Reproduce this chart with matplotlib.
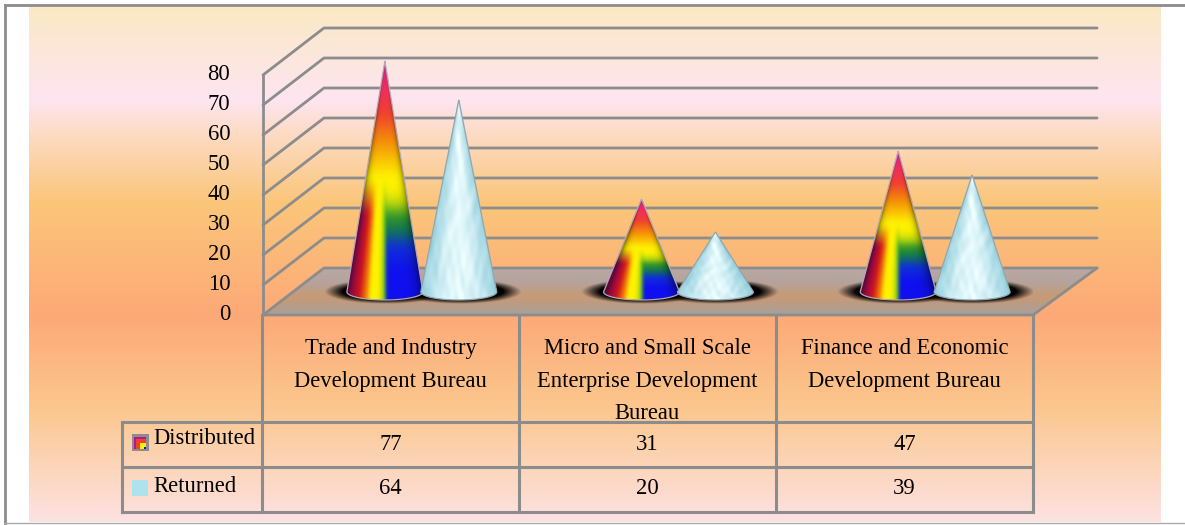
import numpy as np
import matplotlib
matplotlib.use("Agg")
import matplotlib.pyplot as plt
from matplotlib.colors import LinearSegmentedColormap
from matplotlib.patches import PathPatch, Rectangle
from matplotlib.path import Path
from matplotlib.transforms import ScaledTranslation

plt.rcParams["font.family"] = ["Liberation Serif"]

categories = [
    "Trade and Industry\nDevelopment Bureau",
    "Micro and Small Scale\nEnterprise Development\nBureau",
    "Finance and Economic\nDevelopment Bureau",
]
series_names = ["Distributed", "Returned"]
distributed = [77, 31, 47]
returned = [64, 20, 39]
y_ticks = [0, 10, 20, 30, 40, 50, 60, 70, 80]

W, H = 1185, 525
GREY = "#8c8c8c"
FS = 16.3
# front plane of the 3d box, pixels
LEFT, RIGHT, BOTTOM, TOP = 263, 1033, 315, 75
DEPTH_X, DEPTH_Y = 61, 47

fig = plt.figure(figsize=(W / 100, H / 100), dpi=100)

# page layer, in pixels
page = fig.add_axes([0, 0, 1, 1])
page.axis("off")

bg_cmap = LinearSegmentedColormap.from_list(
    "bg",
    [
        (0.0, "#fae9c4"),
        (0.18, "#fee5f1"),
        (0.24, "#fddcc8"),
        (0.38, "#fbc67a"),
        (0.6, "#fda977"),
        (0.78, "#fbc78e"),
        (1.0, "#fde2e2"),
    ],
)
page.imshow(
    np.linspace(0, 1, 256).reshape(-1, 1),
    cmap=bg_cmap,
    aspect="auto",
    extent=[29, 1161, 522, 6],
    zorder=0,
)
page.set_xlim(0, W)
page.set_ylim(H, 0)
page.plot([5, 5], [523, 5], color=GREY, lw=2, zorder=1)
page.plot([5, W], [5, 5], color=GREY, lw=2, zorder=1)
page.plot([5, W], [523, 523], color="#aaaaaa", lw=1, zorder=1)

# table
table_x = [122, 262, 519, 776, 1033]
table_y = [315, 422, 467, 512]
for x in table_x[1:]:
    page.plot([x, x], [table_y[0], table_y[-1]], color=GREY, lw=2.2, zorder=2)
page.plot([table_x[0]] * 2, [table_y[1], table_y[-1]], color=GREY, lw=2.2, zorder=2)
for y in table_y[1:]:
    page.plot([table_x[0], table_x[-1]], [y, y], color=GREY, lw=2.2, zorder=2)

for i, label in enumerate(categories):
    xc = (table_x[i + 1] + table_x[i + 2]) / 2
    page.text(xc, 338, label, ha="center", va="top", fontsize=FS, linespacing=1.72)
    page.text(xc, 445, str(distributed[i]), ha="center", va="center", fontsize=FS)
    page.text(xc, 489, str(returned[i]), ha="center", va="center", fontsize=FS)
page.text(153, 439, series_names[0], ha="left", va="center", fontsize=FS)
page.text(153, 486, series_names[1], ha="left", va="center", fontsize=FS)

# legend keys
page.add_patch(Rectangle((132, 434), 17, 17, fc=GREY, ec="none", zorder=3))
page.add_patch(Rectangle((134, 437), 12, 12, fc="#a81a9a", ec="none", zorder=3))
page.add_patch(Rectangle((136, 439), 10, 10, fc="#f0402a", ec="none", zorder=3))
page.add_patch(Rectangle((140, 443), 6, 6, fc="#fff000", ec="none", zorder=3))
page.add_patch(Rectangle((144, 447), 2, 2, fc="#1020c0", ec="none", zorder=3))
page.add_patch(Rectangle((132, 480), 16, 16, fc="#aee2ec", ec="none", zorder=3))

# chart layer: x in category units, y in data units
ax = fig.add_axes(
    [LEFT / W, 1 - BOTTOM / H, (RIGHT - LEFT) / W, (BOTTOM - TOP) / H], facecolor="none"
)
ax.set_xlim(0, 3)
ax.set_ylim(0, 80)
for s in ax.spines.values():
    s.set_visible(False)
ax.set_xticks([])
ax.set_yticks(y_ticks)
ax.tick_params(axis="y", length=0, labelsize=FS, pad=23.5)
# labels sit a little above their gridline in the original
nudge = ScaledTranslation(0, 2.5 / 100, fig.dpi_scale_trans)
for tick in ax.yaxis.get_major_ticks():
    tick.label1.set_transform(tick.label1.get_transform() + nudge)

dx = DEPTH_X / (RIGHT - LEFT) * 3
dy = DEPTH_Y / (BOTTOM - TOP) * 80
x_end = 3 + dx * 1.05
wall_kw = dict(color=GREY, lw=2, clip_on=False, solid_capstyle="round")

# floor
floor_cmap = LinearSegmentedColormap.from_list(
    "floor", [(0, "#b9a8a4"), (0.3, "#b5a39c"), (0.62, "#c79a74"), (1, "#a8a09c")]
)
floor_path = Path([(0, 0), (dx, dy), (x_end, dy), (3, 0), (0, 0)])
floor_img = ax.imshow(
    np.linspace(0, 1, 64).reshape(-1, 1),
    cmap=floor_cmap,
    aspect="auto",
    extent=[0, x_end, 0, dy],
    zorder=1,
)
floor_img.set_clip_box(fig.bbox)
floor_img.set_clip_path(PathPatch(floor_path, transform=ax.transData))

for t in y_ticks:
    ax.plot([0, dx, x_end], [t, t + dy, t + dy], zorder=2, **wall_kw)
ax.plot([0, 0], [0, 80], zorder=2, **wall_kw)
ax.plot([0, 3, x_end], [0, 0, dy], zorder=2, **wall_kw)


def texture_grid():
    n = 160
    return np.meshgrid(np.linspace(-1, 1, n), np.linspace(1, 0, 2 * n))


def soften(img, wx, wy):
    # box blur, edges padded so the rim does not go dark
    for axis, w in ((1, wx), (0, wy)):
        pad = [(0, 0)] * 3
        pad[axis] = (w, w)
        big = np.pad(img, pad, mode="edge")
        big = np.apply_along_axis(lambda a: np.convolve(a, np.ones(w) / w, mode="same"), axis, big)
        img = np.take(big, range(w, w + img.shape[axis]), axis=axis)
    return img


def rainbow_texture():
    u, v = texture_grid()
    cu = np.clip(u / np.maximum(1 - v, 0.02), -1, 1)
    stripes = LinearSegmentedColormap.from_list(
        "stripes",
        [
            (0.0, "#a00a60"),
            (0.15, "#d8141e"),
            (0.24, "#f07808"),
            (0.31, "#fff200"),
            (0.4, "#fff200"),
            (0.47, "#a8d810"),
            (0.53, "#20a838"),
            (0.6, "#1030e0"),
            (0.87, "#1010f0"),
            (1.0, "#5a0ca8"),
        ],
    )
    upper = LinearSegmentedColormap.from_list(
        "upper",
        [
            (0.0, "#fff200"),
            (0.12, "#fff000"),
            (0.38, "#f59008"),
            (0.6, "#f04030"),
            (0.8, "#f02c60"),
            (1.0, "#c0208c"),
        ],
    )
    lower_right = LinearSegmentedColormap.from_list(
        "lower_right",
        [
            (0.0, "#1010f0"),
            (0.28, "#1030d8"),
            (0.45, "#107060"),
            (0.62, "#30962a"),
            (0.82, "#a8d010"),
            (1.0, "#fff200"),
        ],
    )
    img = stripes((cu + 1) / 2)[..., :3]
    # right side goes blue -> green -> yellow going up
    lr = lower_right(np.clip((v - 0.12) / 0.36, 0, 1))[..., :3]
    w_lr = np.clip((u + 0.03) / 0.1, 0, 1)[..., None]
    img = img * (1 - w_lr) + lr * w_lr
    # top part is a vertical run from yellow to pink
    up = upper(np.clip((v - 0.45) / 0.55, 0, 1))[..., :3]
    w_up = np.clip((v - 0.36) / 0.14, 0, 1)[..., None]
    img = img * (1 - w_up) + up * w_up
    return soften(img, 9, 15), u, v


def ice_texture():
    u, v = texture_grid()
    cu = np.clip(np.abs(u) / np.maximum(1 - v, 0.02), 0, 1)
    # mottled look from a few crossed waves
    m = (
        np.sin(11 * u + 6 * np.sin(7 * v))
        + np.sin(19 * v + 5 * np.sin(6 * u))
        + 0.6 * np.sin(29 * u + 27 * v)
        + 0.6 * np.sin(23 * u - 37 * v)
    ) / 3.2
    centre = np.array([0.90, 0.98, 0.99])
    rim = np.array([0.62, 0.83, 0.88])
    w = (cu**1.6)[..., None]
    img = centre * (1 - w) + rim * w + m[..., None] * np.array([0.07, 0.035, 0.025])
    return np.clip(img, 0, 1), u, v


def draw_shadow(xc, half_w, base_y):
    gx, gy = np.meshgrid(np.linspace(-1, 1, 160), np.linspace(-1, 1, 60))
    r = np.sqrt(gx**2 + gy**2)
    shadow = np.zeros(r.shape + (4,))
    shadow[..., 3] = np.clip((1 - r) / 0.3, 0, 1)
    ax.imshow(
        shadow,
        aspect="auto",
        extent=[xc - half_w * 1.6, xc + half_w * 1.65, base_y - 3.9, base_y + 4.4],
        zorder=4,
        interpolation="bilinear",
    )


rainbow_img, rainbow_u, rainbow_v = rainbow_texture()
ice_img, ice_u, ice_v = ice_texture()


def draw_cone(xc, value, kind, half_w, z):
    base_y = 7.7
    ry = 2.7
    tip_y = base_y + value
    if kind == "rainbow":
        cu = np.abs(rainbow_u) / np.maximum(1 - rainbow_v, 0.02)
        shade = 0.62 + 0.38 * (1 - np.clip(cu, 0, 1) ** 6)
        img = np.clip(rainbow_img * shade[..., None], 0, 1)
        edge = "#b4a8b4"
    else:
        img = ice_img
        edge = "#92a6ac"

    t = np.linspace(np.pi, 2 * np.pi, 40)
    arc = [(xc + half_w * np.cos(a), base_y + ry * np.sin(a)) for a in t]
    path = Path([(xc, tip_y)] + arc + [(xc, tip_y)])
    im = ax.imshow(
        img,
        aspect="auto",
        extent=[xc - half_w, xc + half_w, base_y - ry, tip_y],
        zorder=z,
        interpolation="bilinear",
    )
    im.set_clip_box(fig.bbox)
    im.set_clip_path(PathPatch(path, transform=ax.transData))
    ax.add_patch(PathPatch(path, fc="none", ec=edge, lw=0.9, zorder=z + 0.1, clip_on=False))


half_width = 0.148
offset = 0.144
for i in range(3):
    center = i + 0.5 + dx / 2
    draw_shadow(center - offset, half_width, 7.7)
    draw_shadow(center + offset, half_width, 7.7)
    draw_cone(center - offset, distributed[i], "rainbow", half_width, 5)
    draw_cone(center + offset, returned[i], "ice", half_width, 6)

ax.set_xlim(0, 3)
ax.set_ylim(0, 80)

fig.savefig("out.png", dpi=100)
